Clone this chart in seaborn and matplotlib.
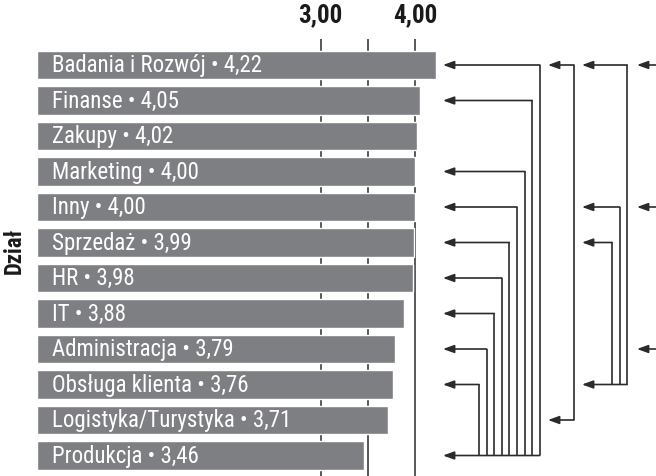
import matplotlib
matplotlib.use("Agg")
import matplotlib.pyplot as plt
from matplotlib import font_manager as fm
import seaborn as sns
import pandas as pd

# ---- data ----
departments = ["Badania i Rozwój", "Finanse", "Zakupy", "Marketing", "Inny",
               "Sprzedaż", "HR", "IT", "Administracja", "Obsługa klienta",
               "Logistyka/Turystyka", "Produkcja"]
scores = [4.22, 4.05, 4.02, 4.00, 4.00, 3.99, 3.98, 3.88, 3.79, 3.76, 3.71, 3.46]
tick_values = [3.0, 4.0]
tick_labels = ["3,00", "4,00"]
grid_values = [3.0, 3.5, 4.0]
axis_title = "Dział"
# significant differences: target row <- source rows
bracket_targets = [11, 10, 9, 8]
bracket_sources = [[0, 1, 3, 4, 5, 6, 7, 8, 9], [0], [0, 4, 5], [0, 4]]

# ---- layout (pixels) ----
W, H, DPI = 656, 476, 100
x0_px, px_per_unit = 36.9, 94.6
top_px = 39.3
row0_px, row_step = 65.0, 35.5
tip_px = [443, 548, 582, 637]
inner_px = [479, 574, 612, 667]
vstep_px = 7.6

sns.set_theme(style="white")
plt.rcParams["font.family"] = ["DejaVu Sans"]


def is_cond(f):
    s = str(f.stretch).lower()
    n = (f.name + " " + f.fname).lower()
    return ("condensed" in s and "semi" not in s) or "narrow" in n or \
        ("condensed" in n and "semi" not in n and "extra" not in n and "ultra" not in n)


def pick(weight_ok):
    prefs = ["Roboto", "Liberation", "Open Sans", "Noto Sans", "DejaVu Sans", ""]
    cands = [f for f in fm.fontManager.ttflist if is_cond(f)
             and f.style == "normal" and weight_ok(f.weight)]
    for p in prefs:
        for f in cands:
            if f.name.startswith(p) and "mono" not in f.name.lower() \
                    and "serif" not in f.name.lower():
                return fm.FontProperties(fname=f.fname)
    return None


def wnum(w):
    if isinstance(w, (int, float)):
        return w
    return fm.weight_dict.get(w, 400)


fp_reg = pick(lambda w: 350 <= wnum(w) <= 450) or fm.FontProperties(family="DejaVu Sans")
fp_bold = pick(lambda w: 650 <= wnum(w) <= 750) or fm.FontProperties(family="DejaVu Sans", weight="bold")

fig = plt.figure(figsize=(W / DPI, H / DPI), dpi=DPI)
ax = fig.add_axes([x0_px / W, 0, 1 - x0_px / W, 1 - top_px / H])

df = pd.DataFrame({"dept": departments, "score": scores})
bar_color = "#7e7f83"
sns.barplot(data=df, x="score", y="dept", color=bar_color, saturation=1,
            width=0.79, ax=ax, zorder=2)

xmax = (W - x0_px) / px_per_unit
ax.set_xlim(0, xmax)
ytop = -(row0_px - top_px) / row_step
ybot = 11 + (H - (row0_px + 11 * row_step)) / row_step
ax.set_ylim(ybot, ytop)

for g in grid_values:
    ax.axvline(g, color="#2a2a2a", lw=1.1, zorder=1)

for i, (d, s) in enumerate(zip(departments, scores)):
    t = ax.text(0.16, i + 0.02, f"{d} • {s:.2f}".replace(".", ","), color="white",
                va="center", ha="left", zorder=3, fontproperties=fp_reg)
    t.set_fontsize(16.5)

ax.xaxis.set_ticks_position("top")
ax.set_xticks(tick_values)
ax.set_xticklabels(tick_labels)
for lab in ax.get_xticklabels():
    lab.set_fontproperties(fp_bold)
    lab.set_fontsize(18)
    lab.set_color("#1a1a1a")
ax.tick_params(axis="x", length=0, pad=9)
ax.set_yticks([])
ax.set_xlabel("")
yl = ax.set_ylabel(axis_title, color="#1a1a1a")
yl.set_fontproperties(fp_bold)
yl.set_fontsize(16.5)
ax.yaxis.set_label_coords((26 - x0_px) / (W - x0_px),
                          1 - (251 - top_px) / (H - top_px))
for sp in ax.spines.values():
    sp.set_visible(False)


def to_x(px):
    return (px - x0_px) / px_per_unit


lc = "#2b2b2b"
aprops = dict(arrowstyle="-|>,head_length=0.55,head_width=0.2", color=lc,
              lw=1.2, shrinkA=0, shrinkB=0)
for k, (tgt, srcs) in enumerate(zip(bracket_targets, bracket_sources)):
    tip = to_x(tip_px[k])
    n = len(srcs)
    vxs = []
    for j, s in enumerate(srcs):
        vx = to_x(inner_px[k] + (n - 1 - j) * vstep_px)
        vxs.append(vx)
        ax.annotate("", xy=(tip, s), xytext=(vx, s), arrowprops=aprops,
                    annotation_clip=False)
        ax.plot([vx, vx], [s, tgt], color=lc, lw=1.2, clip_on=False,
                solid_capstyle="butt")
    ax.annotate("", xy=(tip, tgt), xytext=(max(vxs), tgt), arrowprops=aprops,
                annotation_clip=False)

fig.savefig("out.png", dpi=DPI)
